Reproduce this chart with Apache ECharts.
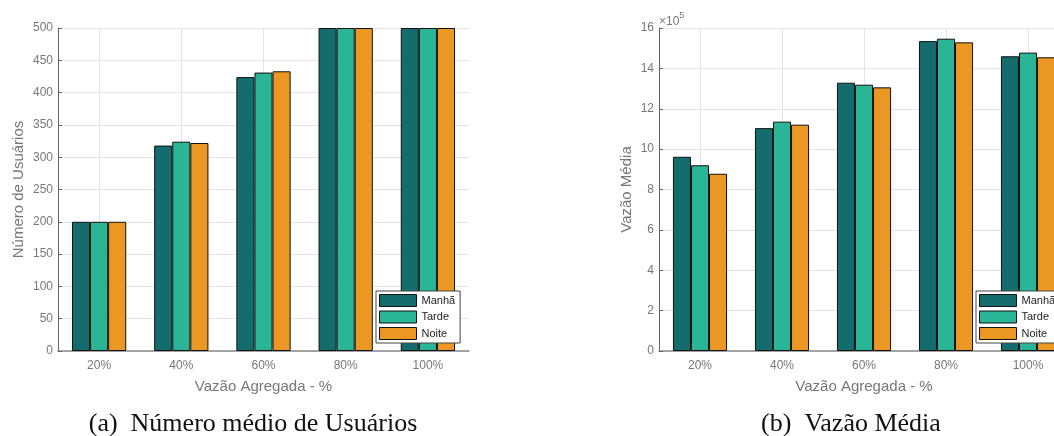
<!DOCTYPE html>
<html>
<head>
<meta charset="utf-8">
<script src="https://cdn.jsdelivr.net/npm/echarts@6/dist/echarts.min.js"></script>
<style>
html,body{margin:0;padding:0;background:#fff;}
#c{width:1054px;height:436px;}
</style>
</head>
<body>
<div id="c"></div>
<script>
// ---- data ----
const categories = ['20%', '40%', '60%', '80%', '100%'];
const seriesNames = ['Manhã', 'Tarde', 'Noite'];
// (a) Número médio de Usuários
const usuariosManha = [200, 318, 424, 500, 500];
const usuariosTarde = [200, 324, 431, 500, 500];
const usuariosNoite = [200, 322, 433, 500, 500];
// (b) Vazão Média (units of 10^5)
const vazaoManha = [9.62, 11.04, 13.29, 15.35, 14.60];
const vazaoTarde = [9.20, 11.36, 13.19, 15.47, 14.78];
const vazaoNoite = [8.78, 11.21, 13.06, 15.29, 14.55];
const captionA = '(a)  Número médio de Usuários';
const captionB = '(b)  Vazão Média';

const colors = ['#146c6c', '#2bb597', '#ea9823'];
const labelGray = '#777777';
const font = 'Liberation Sans, Arial, sans-serif';

const chart = echarts.init(document.getElementById('c'), null, {renderer: 'canvas'});

function barSeries(name, data, idx, color) {
  return {
    name: name, type: 'bar', data: data,
    xAxisIndex: idx, yAxisIndex: idx,
    barGap: '0%', barCategoryGap: '34%',
    itemStyle: {color: color, borderColor: '#111', borderWidth: 1},
    z: 3, silent: true
  };
}
function vGrid(idx) {
  return {
    type: 'line', data: [], xAxisIndex: idx, yAxisIndex: idx, z: 1, silent: true,
    markLine: {
      silent: true, symbol: 'none', label: {show: false}, z: 1,
      lineStyle: {color: '#e4e4e4', type: 'solid', width: 1},
      data: categories.map(c => ({xAxis: c}))
    }
  };
}
function xAx(gi) {
  return {
    type: 'category', data: categories, gridIndex: gi,
    axisLine: {lineStyle: {color: '#8a8a8a', width: 1.5}},
    axisTick: {show: false},
    axisLabel: {color: labelGray, fontSize: 12, fontFamily: font, margin: 9},
    splitLine: {show: false},
    name: 'Vazão Agregada - %', nameLocation: 'middle', nameGap: 28,
    nameTextStyle: {color: labelGray, fontSize: 15, fontFamily: font}
  };
}
function yAx(gi, max, interval, name, gap) {
  return {
    type: 'value', gridIndex: gi, min: 0, max: max, interval: interval,
    axisLine: {show: true, lineStyle: {color: '#666', width: 1}},
    axisTick: {show: true, inside: true, length: 4, lineStyle: {color: '#666'}},
    axisLabel: {color: labelGray, fontSize: 12, fontFamily: font, margin: 5},
    splitLine: {show: true, lineStyle: {color: '#e4e4e4', width: 1}},
    name: name, nameLocation: 'middle', nameGap: gap,
    nameTextStyle: {color: labelGray, fontSize: 15, fontFamily: font}
  };
}
function legend(left) {
  return {
    orient: 'vertical', left: left, top: 291,
    data: seriesNames, icon: 'rect',
    itemWidth: 37, itemHeight: 12, itemGap: 3.5,
    padding: [3, 5, 3, 3],
    itemStyle: {borderWidth: 1, borderColor: '#111'},
    backgroundColor: '#fff', borderColor: '#444', borderWidth: 1, borderRadius: 0,
    textStyle: {fontSize: 11, color: '#222', fontFamily: font},
    selectedMode: false
  };
}

const option = {
  animation: false,
  backgroundColor: '#fff',
  grid: [
    {left: 58, top: 28, width: 411, height: 323, outerBoundsMode: 'none', containLabel: false},
    {left: 659, top: 28, width: 410, height: 323, outerBoundsMode: 'none', containLabel: false}
  ],
  xAxis: [xAx(0), xAx(1)],
  yAxis: [
    yAx(0, 500, 50, 'Número de Usuários', 32),
    yAx(1, 16, 2, 'Vazão Média', 25)
  ],
  legend: [legend(376), legend(976)],
  series: [
    vGrid(0), vGrid(1),
    barSeries(seriesNames[0], usuariosManha, 0, colors[0]),
    barSeries(seriesNames[1], usuariosTarde, 0, colors[1]),
    barSeries(seriesNames[2], usuariosNoite, 0, colors[2]),
    barSeries(seriesNames[0], vazaoManha, 1, colors[0]),
    barSeries(seriesNames[1], vazaoTarde, 1, colors[1]),
    barSeries(seriesNames[2], vazaoNoite, 1, colors[2])
  ],
  graphic: [
    {type: 'text', left: 659, top: 11, style: {
      text: '{a|×10}{b|5}',
      rich: {
        a: {fontSize: 12, fill: labelGray, fontFamily: font, verticalAlign: 'bottom', padding: [5, 0, 0, 0]},
        b: {fontSize: 9, fill: labelGray, fontFamily: font, verticalAlign: 'top'}
      }
    }},
    {type: 'text', x: 253, y: 424, style: {
      text: captionA, fill: '#111', font: '26px "Liberation Serif", "Times New Roman", serif',
      textAlign: 'center', textVerticalAlign: 'middle'
    }},
    {type: 'text', x: 851, y: 424, style: {
      text: captionB, fill: '#111', font: '26px "Liberation Serif", "Times New Roman", serif',
      textAlign: 'center', textVerticalAlign: 'middle'
    }}
  ]
};
chart.setOption(option);
</script>
</body>
</html>
